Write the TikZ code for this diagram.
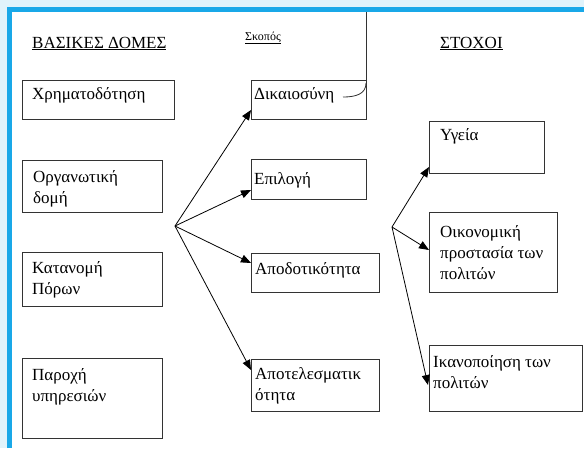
\documentclass[tikz,border=0pt]{standalone}
\usepackage{fontspec}
\setmainfont{Liberation Serif}
\usetikzlibrary{arrows.meta}
\definecolor{outerbg}{HTML}{E0F3FB}
\definecolor{frameblue}{HTML}{19A8E8}
\definecolor{boxline}{HTML}{333333}
\newcommand{\mytab}[1]{\begin{tabular}[t]{@{}l@{}}#1\end{tabular}}
\begin{document}
\begin{tikzpicture}[x=1pt,y=-1pt,
  boxnode/.style={draw=boxline,line width=0.9pt,anchor=north west,inner sep=0pt},
  txt/.style={anchor=base west,inner sep=0pt,font=\fontsize{17}{21}\selectfont},
  arr/.style={line width=0.8pt,-{Triangle[length=10pt,width=8pt]}}]
\useasboundingbox (0,0) rectangle (584,448);
\fill[outerbg] (0,0) rectangle (584,448);
\fill[white] (12,12) rectangle (584,448);
\draw[frameblue,line width=5pt] (9.5,448) -- (9.5,9.5) -- (584,9.5);

% headers
\node[txt] (h1) at (32,48) {\underline{ΒΑΣΙΚΕΣ ΔΟΜΕΣ}};
\node[txt,font=\fontsize{12}{14}\selectfont] (h2) at (245,40) {\underline{Σκοπός}};
\node[txt] (h3) at (440,48) {\underline{ΣΤΟΧΟΙ}};

% left column boxes
\node[boxnode,minimum width=152pt,minimum height=39pt] (b1) at (22,80) {};
\node[boxnode,minimum width=140pt,minimum height=52pt] (b2) at (22,160) {};
\node[boxnode,minimum width=140pt,minimum height=54pt] (b3) at (22,252) {};
\node[boxnode,minimum width=140pt,minimum height=80pt] (b4) at (22,358) {};
\node[txt] (tb1) at (32,99) {Χρηματοδότηση};
\node[txt] (tb2) at (33,182) {\mytab{Οργανωτική\\δομή}};
\node[txt] (tb3) at (32,273) {\mytab{Κατανομή\\Πόρων}};
\node[txt] (tb4) at (32,380) {\mytab{Παροχή\\υπηρεσιών}};

% middle column boxes
\node[boxnode,minimum width=115pt,minimum height=39pt] (s1) at (251,80) {};
\node[boxnode,minimum width=115pt,minimum height=40pt] (s2) at (251,159) {};
\node[boxnode,minimum width=128pt,minimum height=39pt] (s3) at (251,253) {};
\node[boxnode,minimum width=128pt,minimum height=52pt] (s4) at (251,359) {};
\node[txt] (ts1) at (254,99) {Δικαιοσύνη};
\node[txt] (ts2) at (254,184) {Επιλογή};
\node[txt] (ts3) at (255,274) {Αποδοτικότητα};
\node[txt] (ts4) at (255,379) {\mytab{Αποτελεσματικ\\ότητα}};

% right column boxes
\node[boxnode,minimum width=115pt,minimum height=52pt] (t1) at (429,121) {};
\node[boxnode,minimum width=128pt,minimum height=80pt] (t2) at (429,212) {};
\node[boxnode,minimum width=153pt,minimum height=66pt] (t3) at (429,345) {};
\node[txt] (tt1) at (440,140) {Υγεία};
\node[txt] (tt2) at (440,237) {\mytab{Οικονομική\\προστασία των\\πολιτών}};
\node[txt] (tt3) at (433,367) {\mytab{Ικανοποίηση των\\πολιτών}};

% line and curl at Δικαιοσύνη
\draw[boxline,line width=0.9pt] (s1.north east) -- (s1.north east |- 0,12);
\draw[boxline,line width=0.8pt] (366,83) .. controls (366,94) and (356,97) .. (343,97);

% fans
\coordinate (o1) at (175,226);
\coordinate (o2) at (392,227);
\draw[arr] (o1) -- (s1.west |- 0,110);
\draw[arr] (o1) -- (s2.west |- 0,190);
\draw[arr] (o1) -- (s3.west |- 0,263);
\draw[arr] (o1) -- (s4.west |- 0,370);
\draw[arr] (o2) -- (t1.west |- 0,167);
\draw[arr] (o2) -- (t2.west |- 0,250);
\draw[arr] (o2) -- ([xshift=-1pt]t3.west |- 0,385);
\end{tikzpicture}
\end{document}
